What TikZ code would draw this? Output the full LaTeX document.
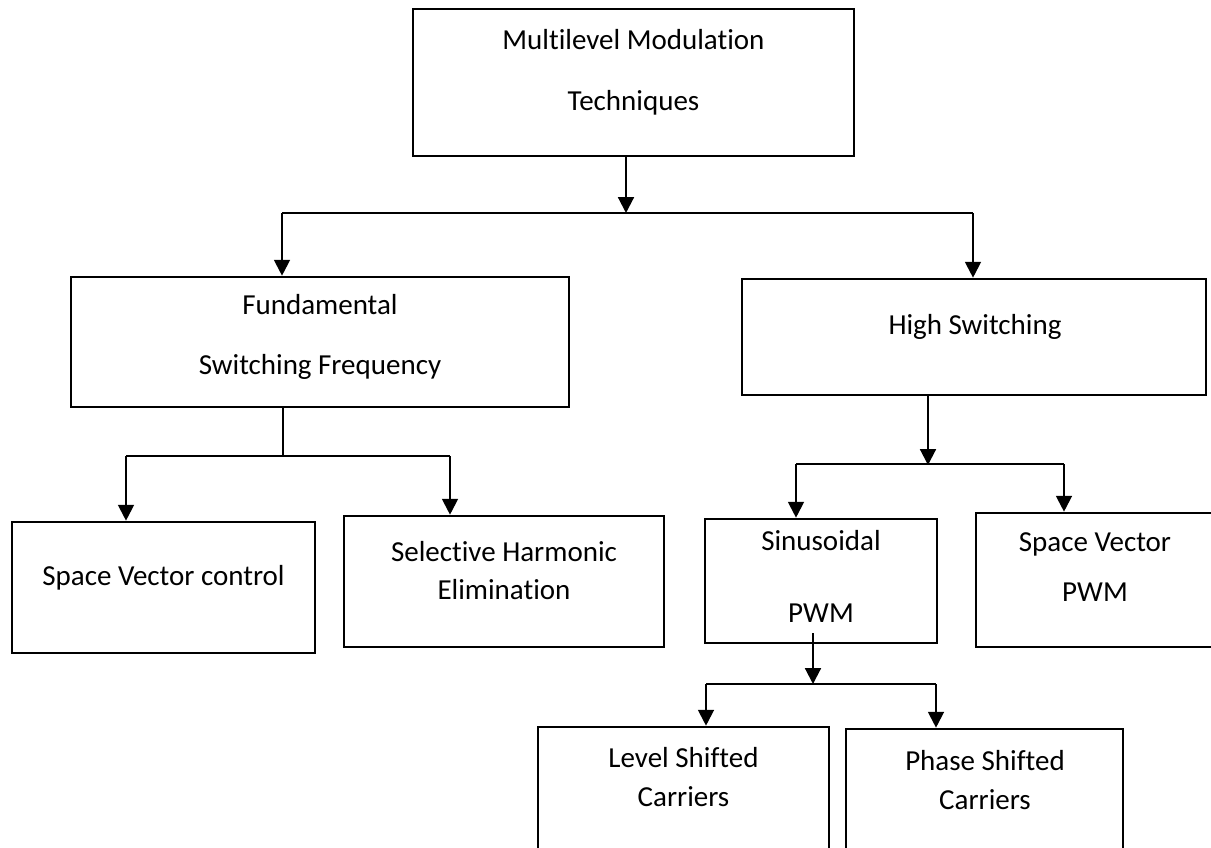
\documentclass[tikz,border=0pt]{standalone}
\usepackage{fontspec}
\setmainfont[Ligatures=NoCommon]{Carlito}
\usetikzlibrary{arrows.meta, calc}
\tikzset{
  blk/.style={rectangle, draw=black, line width=1.5pt, inner sep=0pt},
  lbl/.style={font=\fontsize{16.5}{20}\selectfont, align=center, inner sep=0pt},
  arr/.style={-{Triangle[length=9pt, width=9pt]}, line width=1.2pt},
  lnk/.style={line width=0.7pt},
}

\begin{document}
\begin{tikzpicture}[x=0.02cm, y=-0.02cm]
  \useasboundingbox (0,0) rectangle (1211,848);

  \node[blk, minimum width=8.82cm, minimum height=2.94cm] (mmt) at (633.5,82.5) {};
  \node[blk, minimum width=9.96cm, minimum height=2.60cm] (fsf) at (320,342) {};
  \node[blk, minimum width=9.28cm, minimum height=2.32cm] (hs)  at (974,337) {};
  \node[blk, minimum width=6.06cm, minimum height=2.62cm] (svc) at (163.5,587.5) {};
  \node[blk, minimum width=6.40cm, minimum height=2.62cm] (she) at (504,581.5) {};
  \node[blk, minimum width=4.64cm, minimum height=2.48cm] (sin) at (821,581) {};
  \node[blk, minimum width=4.76cm, minimum height=2.68cm] (svp) at (1095,580) {};
  \node[blk, minimum width=5.82cm, minimum height=2.86cm] (ls)  at (683.5,798.5) {};
  \node[blk, minimum width=5.54cm, minimum height=2.82cm] (ps)  at (984.5,799.5) {};

  \node[lbl] (mmt-l) at (633.5,72.5) {Multilevel Modulation\\[14.7pt]Techniques};
  \node[lbl] (fsf-l) at (320,337)    {Fundamental\\[14.1pt]Switching Frequency};
  \node[lbl] (hs-l)  at (975,327)    {High Switching};
  \node[lbl] (svc-l) at (163.5,578)  {Space Vector control};
  \node[lbl] (she-l) at (504,571)    {Selective Harmonic\\[1.6pt]Elimination};
  \node[lbl] (sin-l) at (821,576)    {Sinusoidal\\[21pt]PWM};
  \node[lbl] (svp-l) at (1095,567)   {Space Vector\\[8.5pt]PWM};
  \node[lbl] (ls-l)  at (683.5,777.5) {Level Shifted\\[2.2pt]Carriers};
  \node[lbl] (ps-l)  at (985,780.5)  {Phase Shifted\\[2.2pt]Carriers};

  % branch points
  \coordinate (j1) at (626,213);
  \coordinate (j1l) at (282,213);
  \coordinate (j1r) at (973,213);
  \coordinate (j2) at (283,456);
  \coordinate (j2l) at (126,456);
  \coordinate (j2r) at (450,456);
  \coordinate (j3) at (928,465);
  \coordinate (j3l) at (796,464);
  \coordinate (j3r) at (1064,464);
  \coordinate (j4) at (813,684);
  \coordinate (j4l) at (706,684);
  \coordinate (j4r) at (936,684);

  \draw[arr] (mmt.south -| j1) -- (j1);
  \draw[lnk] (j1l) -- (j1r);
  \draw[arr] (j1l) -- (fsf.north -| j1l);
  \draw[arr] (j1r) -- (hs.north -| j1r);

  \draw[lnk] (fsf.south -| j2) -- (j2);
  \draw[lnk] (j2l) -- (j2r);
  \draw[arr] (j2l) -- (svc.north -| j2l);
  \draw[arr] (j2r) -- (she.north -| j2r);

  \draw[arr] (hs.south -| j3) -- (j3);
  \draw[lnk] (j3l) -- (j3r);
  \draw[arr] (j3l) -- (sin.north -| j3l);
  \draw[arr] (j3r) -- (svp.north -| j3r);

  \draw[arr] ($(sin.south -| j4)+(0,-11)$) -- (j4);
  \draw[lnk] (j4l) -- (j4r);
  \draw[arr] (j4l) -- (ls.north -| j4l);
  \draw[arr] (j4r) -- (ps.north -| j4r);
\end{tikzpicture}
\end{document}
